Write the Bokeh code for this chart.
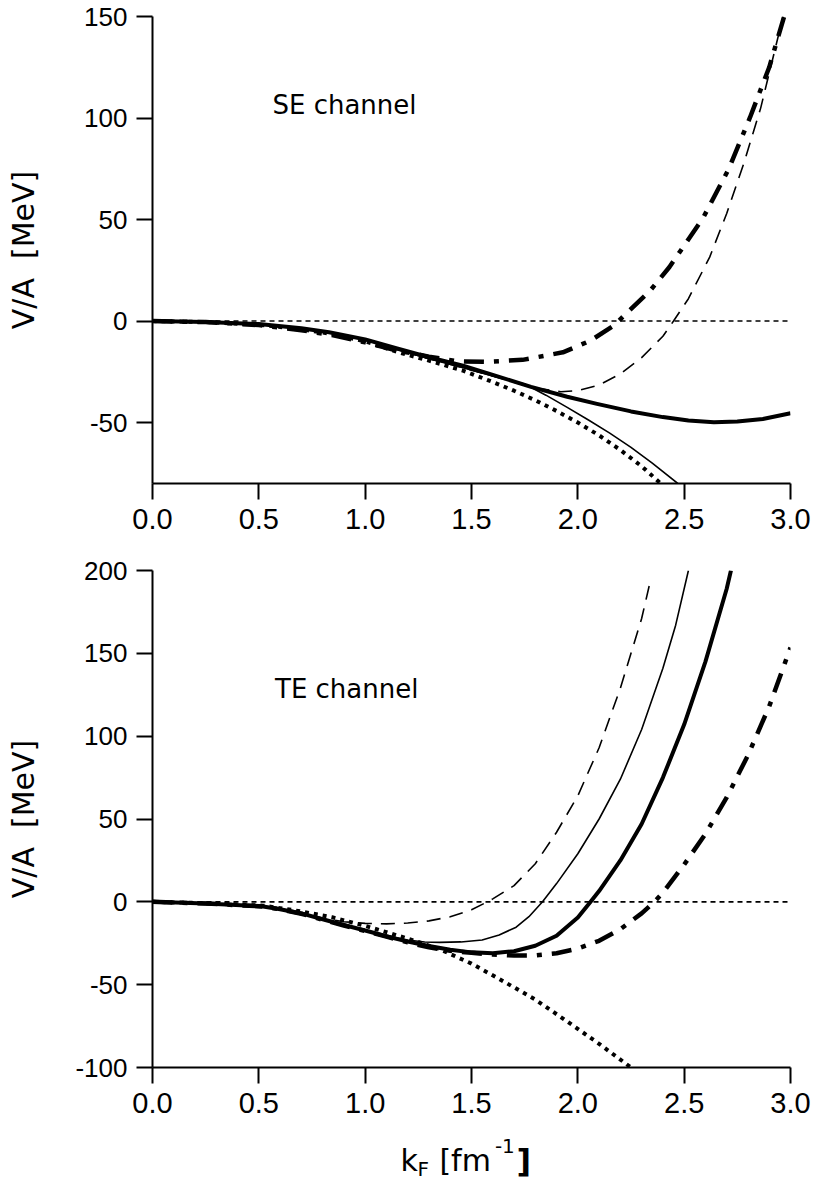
from bokeh.plotting import figure
from bokeh.layouts import column
from bokeh.models import Range1d, FixedTicker, Label
from bokeh.embed import file_html
from bokeh.resources import INLINE

TICK_FONT = "Liberation Sans"
TITLE_FONT = "DejaVu Sans"

# ---------------- ticks ----------------
x_ticks = [0.0, 0.5, 1.0, 1.5, 2.0, 2.5, 3.0]
x_tick_labels = ["0.0", "0.5", "1.0", "1.5", "2.0", "2.5", "3.0"]
se_y_ticks = [-50, 0, 50, 100, 150]
se_y_tick_labels = ["-50", "0", "50", "100", "150"]
te_y_ticks = [-100, -50, 0, 50, 100, 150, 200]
te_y_tick_labels = ["-100", "-50", "0", "50", "100", "150", "200"]

zero_x = [0.0, 3.0]
zero_y = [0.0, 0.0]

# ---------------- SE channel (top) ----------------
se_thick_solid_x = [0, 0.25, 0.5, 0.7, 0.83, 1.0, 1.15, 1.3, 1.46, 1.6, 1.78, 1.95, 2.09, 2.25, 2.4, 2.52, 2.64, 2.75, 2.87, 3.0]
se_thick_solid_y = [0, -0.4, -1.5, -3.5, -5.5, -9, -13.5, -17.8, -22, -26.5, -32.4, -37.3, -40.8, -44.5, -47.3, -49, -49.8, -49.5, -48.2, -45.4]

se_thin_solid_x = [0, 0.25, 0.5, 0.7, 0.83, 1.0, 1.15, 1.3, 1.46, 1.6, 1.75, 1.85, 1.95, 2.05, 2.15, 2.25, 2.35, 2.47]
se_thin_solid_y = [0, -0.4, -1.5, -3.5, -5.5, -9.2, -14, -18.5, -23, -27, -31, -36.5, -42.5, -48.7, -55.2, -62.2, -70, -80]

se_dotted_x = [0, 0.25, 0.5, 0.7, 0.85, 1.0, 1.15, 1.3, 1.46, 1.6, 1.7, 1.8, 1.9, 2.0, 2.1, 2.2, 2.3, 2.39]
se_dotted_y = [0, -0.5, -1.8, -4, -6.5, -10, -15.2, -19.5, -24.4, -30, -34.3, -39, -44.3, -50, -56.3, -63.5, -71.5, -80]

se_dashed_x = [0, 0.25, 0.5, 0.7, 0.83, 1.0, 1.15, 1.3, 1.46, 1.6, 1.78, 1.92, 2.0, 2.1, 2.2, 2.3, 2.4, 2.45, 2.52, 2.62, 2.70, 2.78, 2.86, 2.965]
se_dashed_y = [0, -0.4, -1.5, -3.5, -5.5, -9.5, -14, -18.5, -23, -27, -32.6, -34.8, -34.3, -31.5, -26, -18, -7.5, 0, 11, 31.5, 53, 77.5, 105, 150]

se_dashdot_x = [0, 0.25, 0.5, 0.7, 0.85, 1.0, 1.15, 1.3, 1.43, 1.57, 1.74, 1.93, 2.06, 2.17, 2.21, 2.34, 2.43, 2.59, 2.71, 2.81, 2.9, 2.97]
se_dashdot_y = [0, -0.5, -2, -4.5, -7, -10.5, -14.5, -17.5, -19.8, -20.1, -19.1, -15.4, -9.6, -2.2, 1.9, 15, 26.5, 51, 75, 100.4, 125, 150]

# ---------------- TE channel (bottom) ----------------
te_thick_solid_x = [0, 0.25, 0.52, 0.6, 0.7, 0.8, 0.9, 1.0, 1.1, 1.2, 1.3, 1.4, 1.5, 1.6, 1.7, 1.8, 1.9, 2.0, 2.06, 2.1, 2.2, 2.3, 2.4, 2.5, 2.6, 2.7, 2.72]
te_thick_solid_y = [0, -1, -2.8, -4.5, -7, -10.5, -14, -17.3, -20.8, -24, -26.7, -28.9, -30.5, -31, -29.8, -26.5, -20.5, -9.5, 0, 6.5, 25, 47, 75, 107, 145, 189, 200]

te_thin_solid_x = [0, 0.25, 0.52, 0.6, 0.7, 0.8, 0.9, 1.0, 1.1, 1.2, 1.28, 1.35, 1.45, 1.55, 1.63, 1.71, 1.77, 1.834, 1.9, 2.0, 2.1, 2.2, 2.3, 2.4, 2.46, 2.52]
te_thin_solid_y = [0, -1, -2.8, -4.5, -7, -10.5, -14, -17.3, -20.5, -23, -24.2, -24.5, -24.2, -23, -20, -15.3, -9, 0, 11, 29, 50, 74, 104, 141, 167, 200]

te_dashed_x = [0, 0.25, 0.52, 0.6, 0.7, 0.8, 0.9, 1.0, 1.1, 1.2, 1.3, 1.4, 1.5, 1.575, 1.6, 1.7, 1.8, 1.9, 2.0, 2.1, 2.2, 2.3, 2.345]
te_dashed_y = [0, -1, -2.8, -4.5, -7, -10, -12, -13, -13.3, -12.8, -11.5, -9, -4.8, 0, 1.8, 9.8, 23, 42, 64, 93, 129, 171, 196]

te_dashdot_x = [0, 0.25, 0.52, 0.6, 0.7, 0.8, 0.9, 1.0, 1.1, 1.2, 1.3, 1.4, 1.5, 1.6, 1.7, 1.8, 1.9, 2.0, 2.1, 2.2, 2.3, 2.36, 2.4, 2.5, 2.6, 2.7, 2.8, 2.9, 3.0]
te_dashdot_y = [0, -1, -2.8, -4.5, -7.2, -10.8, -14.3, -17.6, -21, -24.5, -27.5, -29.5, -30.8, -31.8, -32.4, -32.3, -31, -28.2, -23.5, -16.5, -7, 0, 5.5, 22.5, 41, 63, 88.5, 118, 153.5]

te_dotted_x = [0, 0.25, 0.52, 0.6, 0.7, 0.845, 1.0, 1.1, 1.2, 1.347, 1.5, 1.63, 1.8, 1.943, 2.1, 2.25]
te_dotted_y = [0, -0.8, -2.3, -3.8, -5.8, -9.3, -14.5, -18.3, -22.2, -28.4, -37.3, -46.5, -59, -71.6, -85.7, -100]


def style(p, yticks, ylabels, label_standoff):
    p.outline_line_color = None
    p.grid.visible = False
    p.background_fill_color = "white"
    p.border_fill_color = "white"
    p.xaxis.ticker = FixedTicker(ticks=x_ticks)
    p.xaxis.major_label_overrides = {t: s for t, s in zip(x_ticks, x_tick_labels)}
    p.yaxis.ticker = FixedTicker(ticks=yticks)
    p.yaxis.major_label_overrides = {t: s for t, s in zip(yticks, ylabels)}
    for ax in (p.xaxis, p.yaxis):
        ax.axis_line_color = "black"
        ax.axis_line_width = 2
        ax.major_tick_line_color = "black"
        ax.major_tick_line_width = 2
        ax.major_tick_out = 16
        ax.major_tick_in = 0
        ax.minor_tick_line_color = None
        ax.major_label_text_font = TICK_FONT
        ax.major_label_text_color = "black"
        ax.major_label_standoff = 9
    p.xaxis.major_label_text_font_size = "29px"
    p.yaxis.major_label_text_font_size = "26px"
    p.yaxis.axis_label = "V/A\u00a0\u00a0[MeV]"
    p.yaxis.axis_label_text_font = TITLE_FONT
    p.yaxis.axis_label_text_font_size = "30px"
    p.yaxis.axis_label_text_font_style = "normal"
    p.yaxis.axis_label_text_color = "black"
    p.yaxis.axis_label_standoff = label_standoff


def draw(p, xs, ys, kind):
    if kind == "thick_solid":
        p.line(xs, ys, line_color="black", line_width=4, line_join="round")
    elif kind == "thin_solid":
        p.line(xs, ys, line_color="black", line_width=1.6, line_join="round")
    elif kind == "dashed":
        p.line(xs, ys, line_color="black", line_width=1.6, line_dash="14 9")
    elif kind == "dotted":
        p.line(xs, ys, line_color="black", line_width=4, line_dash="4 5")
    elif kind == "dashdot":
        p.line(xs, ys, line_color="black", line_width=4.5, line_dash="20 10 5 10")
    elif kind == "zero":
        p.line(xs, ys, line_color="black", line_width=1.6, line_dash="5 4")


# ---------------- top figure ----------------
p1 = figure(width=817, height=555, x_range=Range1d(0, 3), y_range=Range1d(-80, 150),
            output_backend="svg", toolbar_location=None,
            min_border_left=152, min_border_right=27, min_border_top=16, min_border_bottom=72)
style(p1, se_y_ticks, se_y_tick_labels, 40)
draw(p1, zero_x, zero_y, "zero")
draw(p1, se_dotted_x, se_dotted_y, "dotted")
draw(p1, se_thin_solid_x, se_thin_solid_y, "thin_solid")
draw(p1, se_dashed_x, se_dashed_y, "dashed")
draw(p1, se_dashdot_x, se_dashdot_y, "dashdot")
draw(p1, se_thick_solid_x, se_thick_solid_y, "thick_solid")
p1.add_layout(Label(x=0.564, y=106.5, text="SE channel", text_font=TITLE_FONT,
                    text_font_size="26px", text_color="black",
                    text_align="left", text_baseline="alphabetic"))

# ---------------- bottom figure ----------------
p2 = figure(width=817, height=571, x_range=Range1d(0, 3), y_range=Range1d(-100, 200),
            output_backend="svg", toolbar_location=None,
            min_border_left=152, min_border_right=27, min_border_top=15, min_border_bottom=59)
style(p2, te_y_ticks, te_y_tick_labels, 31)
draw(p2, zero_x, zero_y, "zero")
draw(p2, te_dotted_x, te_dotted_y, "dotted")
draw(p2, te_dashed_x, te_dashed_y, "dashed")
draw(p2, te_thin_solid_x, te_thin_solid_y, "thin_solid")
draw(p2, te_dashdot_x, te_dashdot_y, "dashdot")
draw(p2, te_thick_solid_x, te_thick_solid_y, "thick_solid")
p2.add_layout(Label(x=0.576, y=128.6, text="TE channel", text_font=TITLE_FONT,
                    text_font_size="26px", text_color="black",
                    text_align="left", text_baseline="alphabetic"))

# ---------------- x-axis title strip: k_F [fm^-1] ----------------
p3 = figure(width=817, height=55, x_range=Range1d(0, 3), y_range=Range1d(0, 55),
            output_backend="svg", toolbar_location=None,
            x_axis_location=None, y_axis_location=None,
            min_border_left=152, min_border_right=27, min_border_top=0, min_border_bottom=0)
p3.outline_line_color = None
p3.grid.visible = False
title_parts = [
    ("k", 1.166, 21, "30px", "normal"),
    ("F", 1.246, 13, "20px", "normal"),
    ("[fm", 1.349, 21, "30px", "normal"),
    ("-1", 1.610, 36, "20px", "normal"),
    ("]", 1.712, 21, "32px", "bold"),
]
for txt, xx, yy, fs, st in title_parts:
    p3.add_layout(Label(x=xx, y=yy, text=txt, text_font=TITLE_FONT, text_font_size=fs,
                        text_font_style=st, text_color="black",
                        text_align="left", text_baseline="alphabetic"))

layout = column(p1, p2, p3)
open("out.html", "w").write(file_html(layout, INLINE))
